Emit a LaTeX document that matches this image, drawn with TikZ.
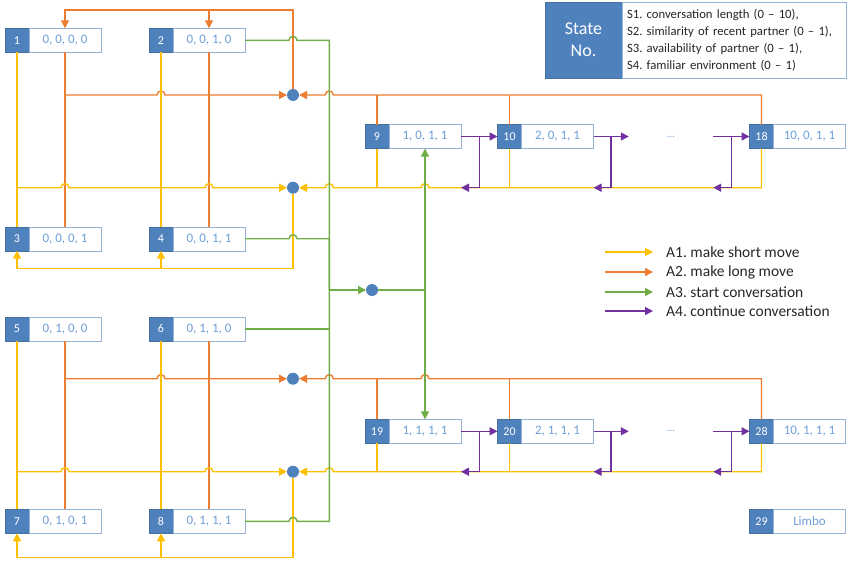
\documentclass[tikz,border=0pt]{standalone}
\usepackage{fontspec}
\setmainfont{Carlito}
\usepackage{tikz}
\usetikzlibrary{arrows.meta,calc}
\frenchspacing
\definecolor{stateblue}{HTML}{4F81BD}
\definecolor{stateedge}{HTML}{41719C}
\definecolor{valedge}{HTML}{95B3D7}
\definecolor{valtext}{HTML}{6F9FD8}
\definecolor{shortc}{HTML}{FFC000}
\definecolor{longc}{HTML}{ED7D31}
\definecolor{startc}{HTML}{70AD47}
\definecolor{contc}{HTML}{7030A0}
\definecolor{keytext}{HTML}{262626}
\tikzset{>/.tip={Triangle[length=8pt,width=8pt]},
  num/.style={draw=stateedge, fill=stateblue, text=white, minimum width=24pt,
    minimum height=24pt, inner sep=0pt, outer sep=0pt, font=\fontsize{12}{12}\selectfont},
  val/.style={draw=valedge, fill=white, text=valtext, minimum width=72pt,
    minimum height=24pt, inner sep=0pt, outer sep=0pt, anchor=west,
    font=\fontsize{13}{13}\selectfont},
  hub/.style={circle, fill=stateblue, minimum size=12pt, inner sep=0pt, outer sep=0pt},
  ashort/.style={draw=shortc, line width=1.4pt},
  along/.style={draw=longc, line width=1.4pt},
  astart/.style={draw=startc, line width=1.4pt},
  acont/.style={draw=contc, line width=1.4pt},
  keyitem/.style={anchor=west, inner sep=0pt, text=keytext, font=\fontsize{15.5}{15.5}\selectfont}}
% a line jumping over a crossing line: x of #1, y of #2
\newcommand{\hopr}[2]{-- ($(#1 |- #2)+(-4,0)$) .. controls +(0,-5.3) and +(0,-5.3) .. ($(#1 |- #2)+(4,0)$)}
\newcommand{\hopl}[2]{-- ($(#1 |- #2)+(4,0)$) .. controls +(0,-5.3) and +(0,-5.3) .. ($(#1 |- #2)+(-4,0)$)}
\begin{document}
\begin{tikzpicture}[x=1pt,y=-1pt]
\useasboundingbox (0,0) rectangle (848,560);
% states
\node[num] (n1) at (17,40.3) {1};
\node[val] (s1) at (n1.east) {0, 0, 0, 0};
\node[num] (n2) at (161,40.3) {2};
\node[val] (s2) at (n2.east) {0, 0, 1, 0};
\node[num] (n3) at (17,238.7) {3};
\node[val] (s3) at (n3.east) {0, 0, 0, 1};
\node[num] (n4) at (161,238.7) {4};
\node[val] (s4) at (n4.east) {0, 0, 1, 1};
\node[num] (n5) at (17,328.8) {5};
\node[val] (s5) at (n5.east) {0, 1, 0, 0};
\node[num] (n6) at (161,328.8) {6};
\node[val] (s6) at (n6.east) {0, 1, 1, 0};
\node[num] (n7) at (17,521.3) {7};
\node[val] (s7) at (n7.east) {0, 1, 0, 1};
\node[num] (n8) at (161,521.3) {8};
\node[val] (s8) at (n8.east) {0, 1, 1, 1};
\node[num] (n9) at (377,136.5) {9};
\node[val] (s9) at (n9.east) {1, 0, 1, 1};
\node[num] (n10) at (509.5,136.5) {10};
\node[val] (s10) at (n10.east) {2, 0, 1, 1};
\node[num] (n18) at (761.5,136.5) {18};
\node[val] (s18) at (n18.east) {10, 0, 1, 1};
\node[num] (n19) at (377,431.3) {19};
\node[val] (s19) at (n19.east) {1, 1, 1, 1};
\node[num] (n20) at (509.5,431.3) {20};
\node[val] (s20) at (n20.east) {2, 1, 1, 1};
\node[num] (n28) at (761.5,431.3) {28};
\node[val] (s28) at (n28.east) {10, 1, 1, 1};
\node[num] (n29) at (761.5,521.3) {29};
\node[val] (s29) at (n29.east) {Limbo};
\node[text=valtext, minimum width=84pt, inner sep=0pt] (e1) at (671,136.5) {...};
\node[text=valtext, minimum width=84pt, inner sep=0pt] (e2) at (671,431.3) {...};
% decision points
\node[hub] (d1) at (293,95) {};
\node[hub] (d2) at (293,187.7) {};
\node[hub] (d3) at (372,290) {};
\node[hub] (d4) at (293,378.7) {};
\node[hub] (d5) at (293,471.7) {};
\coordinate (lt) at (293,10);
\coordinate (yb1) at (293,268.3);
\coordinate (yb2) at (293,557.3);
\coordinate (g) at (329.3,290);
% long moves
\draw[along,->] (d1) -- (lt) -| (s1);
\draw[along,->] (lt -| s2) -- (s2);
\draw[along] (s1) -- (s3);
\draw[along] (s2) -- (s4);
\draw[along,->] (s1 |- d1) \hopr{n2}{d1} -- (d1);
\draw[along,->] (n18) -- (n18 |- d1) \hopl{g}{d1} -- (d1);
\draw[along] (s5) -- (s7);
\draw[along] (s6) -- (s8);
\draw[along,->] (s5 |- d4) \hopr{n6}{d4} -- (d4);
\draw[along,->] (n28) -- (n28 |- d4) \hopl{s19}{d4} \hopl{g}{d4} -- (d4);
\foreach \i in {n9,n10}
  \draw[along] (\i) -- (\i |- d1);
\foreach \i in {n19,n20}
  \draw[along] (\i) -- (\i |- d4);
% short moves
\draw[ashort] (n1) -- (n3);
\draw[ashort] (n2) -- (n4);
\draw[ashort,->] (n1 |- d2) \hopr{s1}{d2} \hopr{s2}{d2} -- (d2);
\draw[ashort,->] (n18) -- (n18 |- d2) \hopl{s9}{d2} \hopl{g}{d2} -- (d2);
\draw[ashort,->] (d2) -- (yb1) -| (n3);
\draw[ashort,->] (yb1 -| n4) -- (n4);
\draw[ashort] (n5) -- (n7);
\draw[ashort] (n6) -- (n8);
\draw[ashort,->] (n5 |- d5) \hopr{s5}{d5} \hopr{s6}{d5} -- (d5);
\draw[ashort,->] (n28) -- (n28 |- d5) \hopl{g}{d5} -- (d5);
\draw[ashort,->] (d5) -- (yb2) -| (n7);
\draw[ashort,->] (yb2 -| n8) -- (n8);
\foreach \i in {n9,n10}
  \draw[ashort] (\i) -- (\i |- d2);
\foreach \i in {n19,n20}
  \draw[ashort] (\i) -- (\i |- d5);
% start conversation
\draw[astart] (s2.east) \hopr{d1}{s2} -| (g);
\draw[astart] (s4.east) \hopr{d2}{s4} -| (g);
\draw[astart] (s6.east) -| (g);
\draw[astart] (s8.east) \hopr{d5}{s8} -| (g);
\draw[astart,->] (g) -- (d3);
\draw[astart] (d3) -- (d3 -| s9);
\draw[astart,->] (d3 -| s9) -- (s9);
\draw[astart,->] (d3 -| s9) -- (s19);
% continue conversation
\foreach \a/\b in {s9/n10,s10/e1,e1/n18}
{
  \draw[acont,->] (\a) -- (\b);
  \draw[acont,->] ($(\a.east)!.5!(\b.west)$) |- (\a.east |- d2);
}
\foreach \a/\b in {s19/n20,s20/e2,e2/n28}
{
  \draw[acont,->] (\a) -- (\b);
  \draw[acont,->] ($(\a.east)!.5!(\b.west)$) |- (\a.east |- d5);
}
% key
\node[num, minimum width=77pt, minimum height=76pt, align=center,
  font=\fontsize{18}{22}\selectfont] (key) at (583.5,40) {State\\No.};
\node[val, minimum width=224pt, minimum height=76pt, text width=214pt, inner xsep=5pt,
  align=left, text=keytext, font=\fontsize{12.7}{17}\selectfont] (keytxt) at (key.east)
  {S1. conversation length (0 -- 10),\\S2. similarity of recent partner (0 -- 1),\\
   S3. availability of partner (0 -- 1),\\S4. familiar environment (0 -- 1)};
\node[keyitem] (k1) at (666,252) {A1. make short move};
\node[keyitem] (k2) at (666,272) {A2. make long move};
\node[keyitem] (k3) at (666,292) {A3. start conversation};
\node[keyitem] (k4) at (666,311) {A4. continue conversation};
\coordinate (l1) at (605,252);
\coordinate (l2) at (605,272);
\coordinate (l3) at (605,292);
\coordinate (l4) at (605,311);
\draw[ashort,->] (l1) -- ([xshift=-13pt]k1.west);
\draw[along,->] (l2) -- ([xshift=-13pt]k2.west);
\draw[astart,->] (l3) -- ([xshift=-13pt]k3.west);
\draw[acont,->] (l4) -- ([xshift=-13pt]k4.west);
\end{tikzpicture}
\end{document}
